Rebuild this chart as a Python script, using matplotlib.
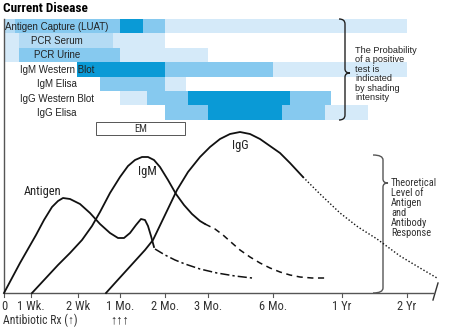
import numpy as np
import matplotlib.pyplot as plt
from matplotlib.patches import Rectangle, PathPatch
from matplotlib.path import Path

# --- test rows: (start, end, shading level) along the time axis (pixel scale)
tests = ["Antigen Capture (LUAT)", "PCR Serum", "PCR Urine", "IgM Western Blot",
         "IgM Elisa", "IgG Western Blot", "IgG Elisa"]
antigen_capture = [(4, 15, 2), (15, 120, 3), (120, 143, 4), (143, 165, 3), (165, 407, 1)]
pcr_serum = [(4, 19, 1), (19, 113, 2), (113, 165, 1)]
pcr_urine = [(4, 19, 1), (19, 120, 3), (120, 208, 1)]
igm_wb = [(77, 165, 4), (165, 273, 3), (273, 407, 1)]
igm_elisa = [(100, 165, 3), (165, 186, 1)]
igg_wb = [(120, 147, 1), (147, 188, 3), (188, 290, 4), (290, 331, 3)]
igg_elisa = [(165, 208, 3), (208, 282, 4), (282, 325, 3), (325, 368, 1)]
rows = [antigen_capture, pcr_serum, pcr_urine, igm_wb, igm_elisa, igg_wb, igg_elisa]
shade = {1: "#d5eaf9", 2: "#b4dbf4", 3: "#86c9ef", 4: "#0a9ad6"}

# --- time axis ticks
tick_pos = [4, 31, 78, 120, 165, 208, 273, 342, 407]
tick_lab = ["0", "1 Wk.", "2 Wk", "1 Mo.", "2 Mo.", "3 Mo.", "6 Mo.", "1 Yr", "2 Yr"]

# --- theoretical response curves
antigen_x = [4, 12, 20, 28, 36, 44, 52, 58, 63, 70, 80, 90, 100, 110, 118, 124, 130, 136, 141, 145, 148, 151, 154]
antigen_y = [293, 278, 263, 249, 235, 220, 207, 201, 198, 199, 204, 213, 224, 233, 238, 238, 233, 225, 219, 220, 226, 236, 247]
antigen_tail_x = [155, 165, 175, 185, 200, 217, 235, 252]
antigen_tail_y = [249, 255, 260, 264, 269, 273, 276, 278]

igm_x = [32, 45, 58, 70, 82, 92, 100, 110, 120, 128, 135, 142, 148, 154, 160, 168, 176, 184, 192, 200, 205]
igm_y = [293, 279, 265, 253, 240, 226, 212, 193, 177, 166, 160, 157, 157, 160, 167, 180, 194, 205, 214, 221, 224]
igm_tail_x = [205, 215, 223, 232, 240, 250, 260, 270, 280, 290, 300, 312, 325]
igm_tail_y = [224, 229, 235, 243, 250, 257, 263, 268, 272, 275, 277, 278, 278]

igg_x = [106, 115, 125, 135, 145, 153, 165, 177, 188, 200, 210, 220, 230, 240, 250, 260, 270, 280, 290, 303]
igg_y = [293, 283, 272, 261, 250, 240, 215, 190, 172, 157, 147, 139, 134, 132, 134, 139, 146, 153, 163, 177]
igg_tail_x = [303, 320, 340, 358, 377, 400, 420, 437]
igg_tail_y = [177, 194, 213, 227, 239, 256, 268, 278]

narrow = ["Liberation Sans Narrow", "DejaVu Sans Condensed", "Roboto Condensed", "Liberation Sans", "DejaVu Sans"]
plain = ["Liberation Sans", "DejaVu Sans"]

fig = plt.figure(figsize=(4.61, 3.33), dpi=100)
ax = fig.add_axes([0, 0, 1, 1])
ax.set_xlim(0, 461)
ax.set_ylim(333, 0)
ax.axis("off")

ax.text(3, 8, "Current Disease", fontsize=9.5, fontweight="bold", family=narrow, va="center")

# shaded test rows
top, rh = 19, 14.4
for i, segs in enumerate(rows):
    y0 = top + i * rh
    for s, e, lv in segs:
        ax.add_patch(Rectangle((s, y0), e - s, rh, color=shade[lv], lw=0))
    ax.text(57, y0 + rh / 2 + 0.5, tests[i], fontsize=7, family=plain, ha="center", va="center", color="#222")

# EM box
ax.add_patch(Rectangle((96, 122), 89, 13, fill=False, ec="#555", lw=0.7))
ax.text(140.5, 129, "EM", fontsize=7.5, family=narrow, ha="center", va="center", color="#333")

# frame lines
ax.plot([4, 4], [19, 293], color="#555", lw=1)
ax.plot([4, 433], [293, 293], color="#555", lw=1)
ax.plot([433, 438], [300, 283], color="#333", lw=1)
for p, l in zip(tick_pos, tick_lab):
    ax.plot([p, p], [293, 297], color="#555", lw=0.8)
    ax.text(p, 306, l, fontsize=9, family=narrow, ha="center", va="center", color="#333")
ax.text(3, 320, "Antibiotic Rx (\u2191)", fontsize=8.5, family=narrow, va="center", color="#333")
ax.text(120, 320, "\u2191\u2191\u2191", fontsize=9, family=narrow, ha="center", va="center", color="#222")

# curves
ax.plot(antigen_x, antigen_y, color="#111", lw=1.3)
ax.plot(antigen_tail_x, antigen_tail_y, color="#111", lw=1.1, ls=(0, (6, 2, 1.5, 2)))
ax.plot(igm_x, igm_y, color="#111", lw=1.3)
ax.plot(igm_tail_x, igm_tail_y, color="#111", lw=1.1, ls=(0, (4, 3)))
ax.plot(igg_x, igg_y, color="#111", lw=1.3)
ax.plot(igg_tail_x, igg_tail_y, color="#111", lw=1.0, ls=(0, (1, 1.5)))

ax.text(43, 191, "Antigen", fontsize=9, family=narrow, ha="center", va="center", color="#222")
ax.text(147, 172, "IgM", fontsize=9, family=narrow, ha="center", va="center", color="#222")
ax.text(240, 145, "IgG", fontsize=9, family=narrow, ha="center", va="center", color="#222")

# braces
def brace(x, y0, y1, ym, x_out, tip, color):
    v = [(x_out, y0), (x, y0), (x, y0 + 5), (x, ym - 4), (x, ym), (tip, ym),
         (x, ym), (x, ym + 4), (x, y1 - 5), (x, y1), (x_out, y1)]
    c = [Path.MOVETO, Path.CURVE3, Path.CURVE3, Path.LINETO, Path.CURVE3, Path.CURVE3,
         Path.CURVE3, Path.CURVE3, Path.LINETO, Path.CURVE3, Path.CURVE3]
    ax.add_patch(PathPatch(Path(v, c), fill=False, ec=color, lw=1))

brace(345, 19, 120, 73, 339, 350, "#222")
brace(383, 155, 293, 183, 373, 388, "#555")

ax.text(355, 74, "The Probability\nof a positive\ntest is\nindicated\nby shading\nintensity",
        fontsize=6.6, family=plain, va="center", linespacing=1.05, color="#222")
ax.text(391, 208, "Theoretical\nLevel of\nAntigen\nand\nAntibody\nResponse",
        fontsize=7.5, family=narrow, va="center", linespacing=1.0, color="#333")

fig.savefig("out.png", dpi=100)
